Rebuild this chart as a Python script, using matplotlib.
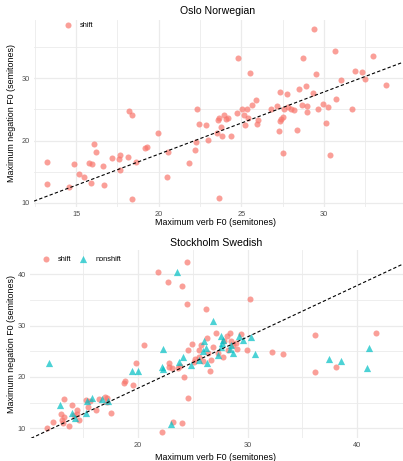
import matplotlib
matplotlib.use("Agg")
import matplotlib.pyplot as plt
from matplotlib.ticker import MultipleLocator

plt.rcParams['font.family'] = ['Liberation Sans', 'DejaVu Sans']

# Oslo Norwegian (all "shift")
oslo_verb = [13.27, 13.27, 14.58, 14.88, 15.2, 15.48, 15.81, 15.95, 15.93, 16.07,
             16.23, 16.63, 16.69, 17.2, 17.58, 17.68, 17.64, 18.17, 18.19, 18.39,
             18.37, 18.65, 19.15, 19.31, 19.94, 20.48, 20.56, 21.85, 22.18, 22.24,
             22.3, 22.44, 22.88, 23.0, 23.51, 23.57, 23.65, 23.67, 23.75, 23.85,
             23.97, 24.09, 24.19, 24.4, 24.72, 24.8, 25.04, 25.18, 25.22, 25.36,
             25.42, 25.54, 25.65, 25.89, 25.95, 26.0, 26.79, 27.15, 27.26, 27.32,
             27.34, 27.4, 27.5, 27.54, 27.58, 27.78, 27.82, 27.98, 28.2, 28.39,
             28.49, 28.67, 28.71, 28.91, 28.99, 28.99, 29.33, 29.42, 29.54, 29.62,
             29.92, 30.14, 30.22, 30.34, 30.71, 30.69, 31.0, 31.67, 31.87, 32.32,
             32.5, 32.94, 33.73]
oslo_neg = [16.6, 12.95, 12.57, 16.27, 14.6, 14.13, 16.33, 16.22, 13.2, 19.38,
            18.15, 15.9, 12.9, 17.13, 17.02, 17.6, 15.3, 17.29, 24.69, 24.1,
            10.64, 16.54, 18.79, 18.95, 21.26, 14.13, 18.1, 16.43, 18.47, 19.76,
            25.0, 22.6, 22.44, 20.13, 21.26, 23.3, 23.57, 10.7, 22.2, 20.78,
            24.1, 23.4, 23.57, 20.78, 24.42, 33.3, 25.0, 24.1, 22.55, 25.0,
            23.57, 30.9, 25.66, 26.46, 22.6, 23.3, 25.12, 25.55, 21.53, 27.86,
            23.2, 23.5, 23.73, 17.99, 25.12, 27.43, 25.44, 25.0, 24.85, 21.69,
            28.23, 25.66, 33.3, 28.71, 25.55, 24.58, 27.59, 37.94, 30.75, 25.12,
            25.82, 22.87, 25.39, 17.67, 26.73, 34.45, 29.79, 25.0, 31.23, 30.97,
            29.95, 33.65, 28.87]

# Stockholm Swedish, "shift"
sthlm_shift_verb = [11.73, 12.28, 13.01, 13.04, 13.13, 13.28, 13.22, 13.74, 13.98, 14.13,
                    14.41, 14.47, 14.59, 15.23, 15.41, 15.62, 16.17, 16.47, 16.99, 17.14,
                    17.2, 17.54, 18.75, 18.78, 19.54, 19.82, 20.55, 21.82, 22.22, 22.77,
                    22.83, 22.86, 23.1, 23.16, 23.65, 23.83, 23.98, 24.01, 24.22, 24.44,
                    24.47, 24.56, 24.56, 24.92, 25.08, 25.2, 25.56, 25.74, 25.9, 26.17,
                    26.26, 26.57, 26.63, 26.81, 27.14, 27.29, 27.72, 27.84, 28.12, 28.39,
                    28.45, 28.63, 28.97, 29.06, 29.36, 29.94, 30.21, 32.19, 33.25, 36.17,
                    36.17, 38.05, 41.7, 28.24, 26.41, 25.53]
sthlm_shift_neg = [10.13, 11.17, 12.79, 11.56, 10.97, 15.71, 12.14, 10.39, 14.55, 12.53,
                   13.5, 12.79, 11.62, 15.52, 14.22, 15.39, 13.5, 15.78, 16.17, 15.84,
                   15.06, 13.05, 18.77, 19.29, 18.44, 22.79, 26.17, 40.39, 9.29, 38.44,
                   22.66, 22.01, 21.69, 11.23, 21.69, 22.14, 37.73, 11.04, 20.0, 42.4,
                   34.22, 25.26, 15.91, 26.43, 22.86, 23.5, 25.26, 26.17, 23.05, 33.31,
                   27.66, 21.1, 23.31, 25.78, 28.51, 24.61, 23.83, 27.08, 27.99, 28.51,
                   27.01, 26.17, 26.56, 25.39, 28.38, 25.19, 35.19, 24.94, 24.48, 28.12,
                   21.04, 22.01, 28.64, 25.26, 24.61, 23.96]

# Stockholm Swedish, "nonshift"
sthlm_non_verb = [11.88, 12.89, 13.98, 14.29, 15.29, 15.38, 15.84, 16.72, 17.23, 19.42,
                  20.0, 22.28, 22.16, 22.25, 23.01, 23.53, 23.77, 24.07, 24.8, 25.59,
                  25.9, 26.02, 26.2, 26.32, 26.84, 27.33, 27.54, 27.57, 27.66, 27.78,
                  28.39, 28.48, 28.69, 29.24, 29.6, 30.27, 30.64, 37.45, 38.48, 40.85,
                  41.09]
sthlm_non_neg = [22.79, 14.55, 13.05, 11.95, 12.92, 15.32, 15.91, 15.65, 15.32, 21.23,
                 21.23, 25.52, 22.01, 21.62, 10.84, 40.45, 22.99, 23.96, 22.4, 23.31,
                 25.0, 27.08, 25.58, 22.79, 30.97, 24.29, 28.05, 25.91, 26.56, 27.21,
                 25.39, 26.23, 24.61, 28.05, 27.21, 27.73, 24.48, 23.44, 23.12, 21.82,
                 25.71]

# reference line (slope, intercept)
line_slope = 1.0
line_intercept = -2.2

SHIFT = "#F8766D"
NONSHIFT = "#00BFC4"
GRID = "#EBEBEB"
TICK = "#4D4D4D"

W, H = 403, 461
fig = plt.figure(figsize=(W / 100, H / 100), dpi=100)


def style(ax, xmaj, ymaj):
    ax.set_facecolor("white")
    for s in ax.spines.values():
        s.set_visible(False)
    ax.xaxis.set_major_locator(MultipleLocator(xmaj))
    ax.xaxis.set_minor_locator(MultipleLocator(xmaj / 2))
    ax.yaxis.set_major_locator(MultipleLocator(ymaj))
    ax.yaxis.set_minor_locator(MultipleLocator(ymaj / 2))
    ax.grid(True, which="major", color=GRID, lw=0.9)
    ax.grid(True, which="minor", color=GRID, lw=0.6)
    ax.set_axisbelow(True)
    ax.tick_params(which="both", length=0, labelsize=5.3, labelcolor=TICK, pad=3)
    ax.axline((0, line_intercept), slope=line_slope, color="black",
              ls=(0, (3, 2)), lw=0.8, zorder=3)


# top panel
ax1 = fig.add_axes([34 / W, 1 - 206.7 / H, 1 - 34 / W, (206.7 - 20) / H])
style(ax1, 5, 10)
ax1.scatter(oslo_verb, oslo_neg, s=19, color=SHIFT, alpha=0.7, lw=0, label="shift")
ax1.set_xlim(12.46, 34.78)
ax1.set_ylim(9.36, 39.37)
ax1.legend(loc="upper left", bbox_to_anchor=(58 / W, 1 - 20 / H),
           bbox_transform=fig.transFigure, frameon=False, fontsize=5.3,
           handletextpad=0.6, borderaxespad=0, borderpad=0.3)

fig.text(218 / W, 1 - 10.7 / H, "Oslo Norwegian", ha="center", va="center", fontsize=7.6)
fig.text(216 / W, 1 - 222.7 / H, "Maximum verb F0 (semitones)", ha="center", va="center", fontsize=6.4)
fig.text(12 / W, 1 - 113.3 / H, "Maximum negation F0 (semitones)", ha="center", va="center",
         rotation=90, fontsize=6.4)

# bottom panel
ax2 = fig.add_axes([30 / W, 1 - 438.3 / H, 1 - 30 / W, (438.3 - 250) / H])
style(ax2, 10, 10)
ax2.scatter(sthlm_shift_verb, sthlm_shift_neg, s=19, color=SHIFT, alpha=0.7, lw=0,
            marker="o", label="shift")
ax2.scatter(sthlm_non_verb, sthlm_non_neg, s=27, color=NONSHIFT, alpha=0.7, lw=0,
            marker="^", label="nonshift")
ax2.set_xlim(10.15, 44.17)
ax2.set_ylim(8.05, 44.7)
ax2.legend(loc="upper left", bbox_to_anchor=(36 / W, 1 - 254 / H),
           bbox_transform=fig.transFigure, frameon=False, fontsize=5.3, ncol=2,
           handletextpad=0.6, columnspacing=0.7, borderaxespad=0, borderpad=0.3)

fig.text(216 / W, 1 - 243.3 / H, "Stockholm Swedish", ha="center", va="center", fontsize=7.6)
fig.text(216 / W, 1 - 457.7 / H, "Maximum verb F0 (semitones)", ha="center", va="center", fontsize=6.4)
fig.text(12 / W, 1 - 344 / H, "Maximum negation F0 (semitones)", ha="center", va="center",
         rotation=90, fontsize=6.4)

fig.savefig("out.png", dpi=100)
